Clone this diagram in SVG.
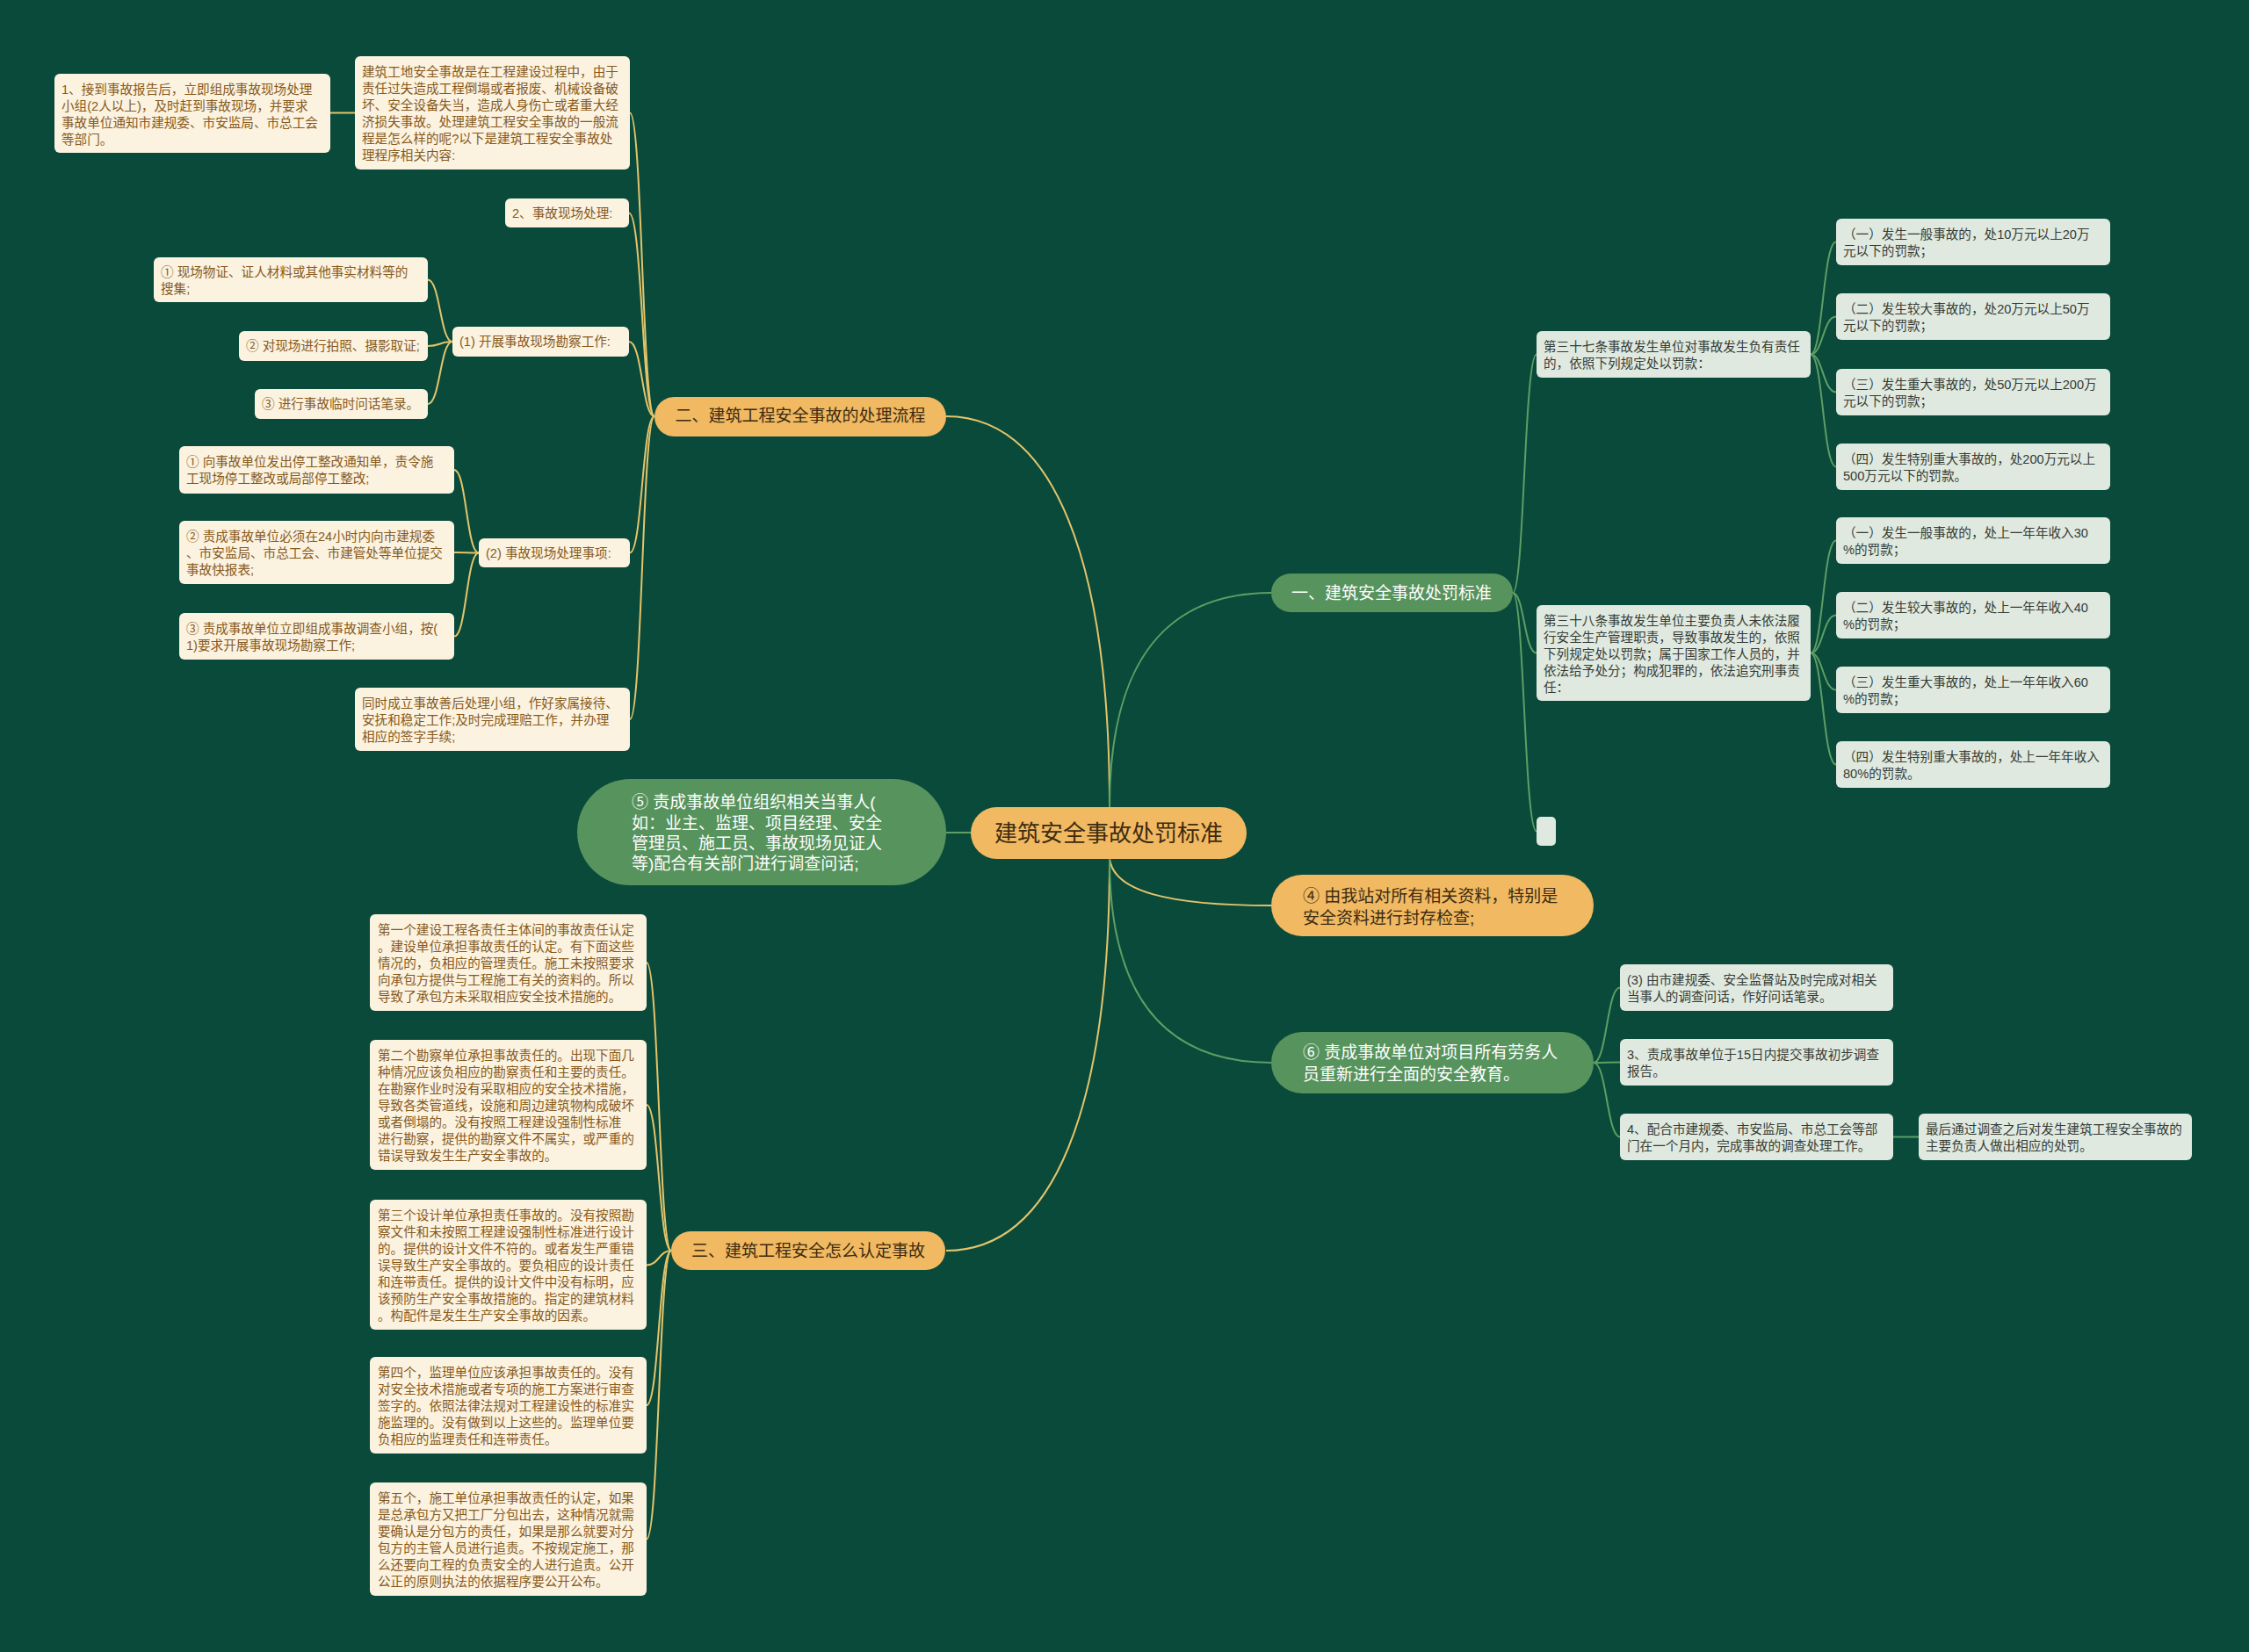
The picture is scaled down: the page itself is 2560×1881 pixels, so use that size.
<svg xmlns="http://www.w3.org/2000/svg" width="2560" height="1881" viewBox="0 0 2560 1881">
<style>
text{font-family:"Liberation Sans","Noto Sans CJK SC",sans-serif}
.lf{fill:#fbf2e0}
.rf{fill:#dfe9df}
.tl{fill:#87591a;font-size:14.6px}
.tr{fill:#363b36;font-size:14.6px}
.or{fill:#f0b962}
.gr{fill:#57935d}
.to{fill:#3d2b10;font-size:19px}
.tw{fill:#ffffff;font-size:19px}
.cy{fill:none;stroke:#e3c46c;stroke-width:2}
.cg{fill:none;stroke:#5d9e65;stroke-width:2}
</style>
<rect width="2560" height="1881" fill="#0a4a3a"/>
<g id="connectors">
<path class="cy" d="M1263,919 C1263,640 1200,474 1077,474"/>
<path class="cy" d="M1263,978 C1263,1260 1200,1424 1077,1424"/>
<path class="cg" d="M1263,919 C1263,750 1330,675 1447,675"/>
<path class="cy" d="M1263,978 C1268,1015 1330,1031 1447,1031"/>
<path class="cg" d="M1263,978 C1263,1140 1330,1210 1447,1210"/>
<path class="cg" d="M1105,948 L1077,948"/>
<path class="cy" d="M745,474 C731,474 731,128.5 717,128.5"/>
<path class="cy" d="M745,474 C731,474 731,242.5 716,242.5"/>
<path class="cy" d="M745,474 C731,474 731,389 716,389"/>
<path class="cy" d="M745,474 C731,474 731,629.5 717,629.5"/>
<path class="cy" d="M745,474 C731,474 731,819 717,819"/>
<path class="cy" d="M404,128.5 L376,128.5"/>
<path class="cy" d="M515,389 C501,389 501,318.5 487,318.5"/>
<path class="cy" d="M515,389 C501,389 501,394 487,394"/>
<path class="cy" d="M515,389 C501,389 501,460 487,460"/>
<path class="cy" d="M545,629.5 C531,629.5 531,535 517,535"/>
<path class="cy" d="M545,629.5 C531,629.5 531,629 517,629"/>
<path class="cy" d="M545,629.5 C531,629.5 531,724.5 517,724.5"/>
<path class="cy" d="M764,1424 C750,1424 750,1096 736,1096"/>
<path class="cy" d="M764,1424 C750,1424 750,1258 736,1258"/>
<path class="cy" d="M764,1424 C750,1424 750,1440.5 736,1440.5"/>
<path class="cy" d="M764,1424 C750,1424 750,1600 736,1600"/>
<path class="cy" d="M764,1424 C750,1424 750,1752.5 736,1752.5"/>
<path class="cg" d="M1722,675 C1735,675 1735,403.5 1749,403.5"/>
<path class="cg" d="M1722,675 C1735,675 1735,743.5 1749,743.5"/>
<path class="cg" d="M1722,675 C1735,675 1735,946.5 1749,946.5"/>
<path class="cg" d="M2061,403.5 C2075,403.5 2075,275.5 2090,275.5"/>
<path class="cg" d="M2061,403.5 C2075,403.5 2075,360.5 2090,360.5"/>
<path class="cg" d="M2061,403.5 C2075,403.5 2075,446.5 2090,446.5"/>
<path class="cg" d="M2061,403.5 C2075,403.5 2075,531.5 2090,531.5"/>
<path class="cg" d="M2061,743.5 C2075,743.5 2075,615.5 2090,615.5"/>
<path class="cg" d="M2061,743.5 C2075,743.5 2075,700.5 2090,700.5"/>
<path class="cg" d="M2061,743.5 C2075,743.5 2075,785.5 2090,785.5"/>
<path class="cg" d="M2061,743.5 C2075,743.5 2075,870.5 2090,870.5"/>
<path class="cg" d="M1814,1210 C1829,1210 1829,1124.5 1844,1124.5"/>
<path class="cg" d="M1814,1210 C1829,1210 1829,1209.5 1844,1209.5"/>
<path class="cg" d="M1814,1210 C1829,1210 1829,1294.5 1844,1294.5"/>
<path class="cg" d="M2155,1294.5 L2184,1294.5"/>
</g>
<g id="center"><rect class="or" x="1105" y="919" width="314" height="59" rx="29.5"/><text x="1262" y="958" text-anchor="middle" style="font-size:26px;fill:#3d2b10">建筑安全事故处罚标准</text></g>
<g id="b2"><rect class="or" x="745" y="452" width="332" height="45" rx="22.5"/><text class="to" x="911" y="480" text-anchor="middle">二、建筑工程安全事故的处理流程</text></g>
<g id="b3"><rect class="or" x="764" y="1402" width="312" height="44" rx="22"/><text class="to" x="920" y="1431" text-anchor="middle">三、建筑工程安全怎么认定事故</text></g>
<g id="b1"><rect class="gr" x="1447" y="653" width="275" height="44" rx="22"/><text class="tw" x="1584" y="682" text-anchor="middle">一、建筑安全事故处罚标准</text></g>
<g id="b5"><rect class="gr" x="657" y="887" width="420" height="121" rx="60.5"/><text class="tw"><tspan x="719" y="920">⑤ 责成事故单位组织相关当事人(</tspan><tspan x="719" y="944">如：业主、监理、项目经理、安全</tspan><tspan x="719" y="967">管理员、施工员、事故现场见证人</tspan><tspan x="719" y="990">等)配合有关部门进行调查问话;</tspan></text></g>
<g id="b4"><rect class="or" x="1447" y="996" width="367" height="70" rx="35"/><text class="to"><tspan x="1483" y="1027">④ 由我站对所有相关资料，特别是</tspan><tspan x="1483" y="1052">安全资料进行封存检查;</tspan></text></g>
<g id="b6"><rect class="gr" x="1447" y="1175" width="367" height="70" rx="35"/><text class="tw"><tspan x="1483" y="1205">⑥ 责成事故单位对项目所有劳务人</tspan><tspan x="1483" y="1230">员重新进行全面的安全教育。</tspan></text></g>
<g id="nA"><rect class="lf" x="62" y="84" width="314" height="90" rx="6"/><text class="tl"><tspan x="70" y="106.5">1、接到事故报告后，立即组成事故现场处理</tspan><tspan x="70" y="125.5">小组(2人以上)，及时赶到事故现场，并要求</tspan><tspan x="70" y="144.5">事故单位通知市建规委、市安监局、市总工会</tspan><tspan x="70" y="163.5">等部门。</tspan></text></g>
<g id="nB"><rect class="lf" x="404" y="64" width="313" height="129" rx="6"/><text class="tl"><tspan x="412" y="86.5">建筑工地安全事故是在工程建设过程中，由于</tspan><tspan x="412" y="105.5">责任过失造成工程倒塌或者报废、机械设备破</tspan><tspan x="412" y="124.5">坏、安全设备失当，造成人身伤亡或者重大经</tspan><tspan x="412" y="143.5">济损失事故。处理建筑工程安全事故的一般流</tspan><tspan x="412" y="162.5">程是怎么样的呢?以下是建筑工程安全事故处</tspan><tspan x="412" y="181.5">理程序相关内容:</tspan></text></g>
<g id="n2"><rect class="lf" x="575" y="226" width="141" height="33" rx="6"/><text class="tl" x="583" y="248">2、事故现场处理:</text></g>
<g id="n1"><rect class="lf" x="515" y="372" width="201" height="34" rx="6"/><text class="tl" x="523" y="394">(1) 开展事故现场勘察工作:</text></g>
<g id="c1a"><rect class="lf" x="175" y="293" width="312" height="51" rx="6"/><text class="tl"><tspan x="183" y="315">① 现场物证、证人材料或其他事实材料等的</tspan><tspan x="183" y="334">搜集;</tspan></text></g>
<g id="c1b"><rect class="lf" x="272" y="377" width="215" height="34" rx="6"/><text class="tl" x="280" y="399">② 对现场进行拍照、摄影取证;</text></g>
<g id="c1c"><rect class="lf" x="290" y="443" width="197" height="34" rx="6"/><text class="tl" x="298" y="465">③ 进行事故临时问话笔录。</text></g>
<g id="n2b"><rect class="lf" x="545" y="613" width="172" height="33" rx="6"/><text class="tl" x="553" y="635">(2) 事故现场处理事项:</text></g>
<g id="c2a"><rect class="lf" x="204" y="508" width="313" height="54" rx="6"/><text class="tl"><tspan x="212" y="531">① 向事故单位发出停工整改通知单，责令施</tspan><tspan x="212" y="550">工现场停工整改或局部停工整改;</tspan></text></g>
<g id="c2b"><rect class="lf" x="204" y="593" width="313" height="72" rx="6"/><text class="tl"><tspan x="212" y="615.5">② 责成事故单位必须在24小时内向市建规委</tspan><tspan x="212" y="634.5">、市安监局、市总工会、市建管处等单位提交</tspan><tspan x="212" y="653.5">事故快报表;</tspan></text></g>
<g id="c2c"><rect class="lf" x="204" y="698" width="313" height="53" rx="6"/><text class="tl"><tspan x="212" y="720.5">③ 责成事故单位立即组成事故调查小组，按(</tspan><tspan x="212" y="739.5">1)要求开展事故现场勘察工作;</tspan></text></g>
<g id="n3"><rect class="lf" x="404" y="783" width="313" height="72" rx="6"/><text class="tl"><tspan x="412" y="805.5">同时成立事故善后处理小组，作好家属接待、</tspan><tspan x="412" y="824.5">安抚和稳定工作;及时完成理赔工作，并办理</tspan><tspan x="412" y="843.5">相应的签字手续;</tspan></text></g>
<g id="L1"><rect class="lf" x="421" y="1041" width="315" height="110" rx="6"/><text class="tl"><tspan x="430" y="1063.5">第一个建设工程各责任主体间的事故责任认定</tspan><tspan x="430" y="1082.5">。建设单位承担事故责任的认定。有下面这些</tspan><tspan x="430" y="1101.5">情况的，负相应的管理责任。施工未按照要求</tspan><tspan x="430" y="1120.5">向承包方提供与工程施工有关的资料的。所以</tspan><tspan x="430" y="1139.5">导致了承包方未采取相应安全技术措施的。</tspan></text></g>
<g id="L2"><rect class="lf" x="421" y="1184" width="315" height="148" rx="6"/><text class="tl"><tspan x="430" y="1206.5">第二个勘察单位承担事故责任的。出现下面几</tspan><tspan x="430" y="1225.5">种情况应该负相应的勘察责任和主要的责任。</tspan><tspan x="430" y="1244.5">在勘察作业时没有采取相应的安全技术措施，</tspan><tspan x="430" y="1263.5">导致各类管道线，设施和周边建筑物构成破坏</tspan><tspan x="430" y="1282.5">或者倒塌的。没有按照工程建设强制性标准</tspan><tspan x="430" y="1301.5">进行勘察，提供的勘察文件不属实，或严重的</tspan><tspan x="430" y="1320.5">错误导致发生生产安全事故的。</tspan></text></g>
<g id="L3"><rect class="lf" x="421" y="1366" width="315" height="148" rx="6"/><text class="tl"><tspan x="430" y="1388.5">第三个设计单位承担责任事故的。没有按照勘</tspan><tspan x="430" y="1407.5">察文件和未按照工程建设强制性标准进行设计</tspan><tspan x="430" y="1426.5">的。提供的设计文件不符的。或者发生严重错</tspan><tspan x="430" y="1445.5">误导致生产安全事故的。要负相应的设计责任</tspan><tspan x="430" y="1464.5">和连带责任。提供的设计文件中没有标明，应</tspan><tspan x="430" y="1483.5">该预防生产安全事故措施的。指定的建筑材料</tspan><tspan x="430" y="1502.5">。构配件是发生生产安全事故的因素。</tspan></text></g>
<g id="L4"><rect class="lf" x="421" y="1545" width="315" height="110" rx="6"/><text class="tl"><tspan x="430" y="1567.5">第四个，监理单位应该承担事故责任的。没有</tspan><tspan x="430" y="1586.5">对安全技术措施或者专项的施工方案进行审查</tspan><tspan x="430" y="1605.5">签字的。依照法律法规对工程建设性的标准实</tspan><tspan x="430" y="1624.5">施监理的。没有做到以上这些的。监理单位要</tspan><tspan x="430" y="1643.5">负相应的监理责任和连带责任。</tspan></text></g>
<g id="L5"><rect class="lf" x="421" y="1688" width="315" height="129" rx="6"/><text class="tl"><tspan x="430" y="1710.5">第五个，施工单位承担事故责任的认定，如果</tspan><tspan x="430" y="1729.5">是总承包方又把工厂分包出去，这种情况就需</tspan><tspan x="430" y="1748.5">要确认是分包方的责任，如果是那么就要对分</tspan><tspan x="430" y="1767.5">包方的主管人员进行追责。不按规定施工，那</tspan><tspan x="430" y="1786.5">么还要向工程的负责安全的人进行追责。公开</tspan><tspan x="430" y="1805.5">公正的原则执法的依据程序要公开公布。</tspan></text></g>
<g id="R37"><rect class="rf" x="1749" y="377" width="312" height="53" rx="6"/><text class="tr"><tspan x="1757" y="399.5">第三十七条事故发生单位对事故发生负有责任</tspan><tspan x="1757" y="418.5">的，依照下列规定处以罚款：</tspan></text></g>
<g id="R38"><rect class="rf" x="1749" y="689" width="312" height="109" rx="6"/><text class="tr"><tspan x="1757" y="711.5">第三十八条事故发生单位主要负责人未依法履</tspan><tspan x="1757" y="730.5">行安全生产管理职责，导致事故发生的，依照</tspan><tspan x="1757" y="749.5">下列规定处以罚款；属于国家工作人员的，并</tspan><tspan x="1757" y="768.5">依法给予处分；构成犯罪的，依法追究刑事责</tspan><tspan x="1757" y="787.5">任：</tspan></text></g>
<g id="Rempty"><rect class="rf" x="1749" y="930" width="22" height="33" rx="5"/></g>
<g id="P1"><rect class="rf" x="2090" y="249" width="312" height="53" rx="6"/><text class="tr"><tspan x="2098" y="271.5">（一）发生一般事故的，处10万元以上20万</tspan><tspan x="2098" y="290.5">元以下的罚款；</tspan></text></g>
<g id="P2"><rect class="rf" x="2090" y="334" width="312" height="53" rx="6"/><text class="tr"><tspan x="2098" y="356.5">（二）发生较大事故的，处20万元以上50万</tspan><tspan x="2098" y="375.5">元以下的罚款；</tspan></text></g>
<g id="P3"><rect class="rf" x="2090" y="420" width="312" height="53" rx="6"/><text class="tr"><tspan x="2098" y="442.5">（三）发生重大事故的，处50万元以上200万</tspan><tspan x="2098" y="461.5">元以下的罚款；</tspan></text></g>
<g id="P4"><rect class="rf" x="2090" y="505" width="312" height="53" rx="6"/><text class="tr"><tspan x="2098" y="527.5">（四）发生特别重大事故的，处200万元以上</tspan><tspan x="2098" y="546.5">500万元以下的罚款。</tspan></text></g>
<g id="P5"><rect class="rf" x="2090" y="589" width="312" height="53" rx="6"/><text class="tr"><tspan x="2098" y="611.5">（一）发生一般事故的，处上一年年收入30</tspan><tspan x="2098" y="630.5">%的罚款；</tspan></text></g>
<g id="P6"><rect class="rf" x="2090" y="674" width="312" height="53" rx="6"/><text class="tr"><tspan x="2098" y="696.5">（二）发生较大事故的，处上一年年收入40</tspan><tspan x="2098" y="715.5">%的罚款；</tspan></text></g>
<g id="P7"><rect class="rf" x="2090" y="759" width="312" height="53" rx="6"/><text class="tr"><tspan x="2098" y="781.5">（三）发生重大事故的，处上一年年收入60</tspan><tspan x="2098" y="800.5">%的罚款；</tspan></text></g>
<g id="P8"><rect class="rf" x="2090" y="844" width="312" height="53" rx="6"/><text class="tr"><tspan x="2098" y="866.5">（四）发生特别重大事故的，处上一年年收入</tspan><tspan x="2098" y="885.5">80%的罚款。</tspan></text></g>
<g id="S3"><rect class="rf" x="1844" y="1098" width="311" height="53" rx="6"/><text class="tr"><tspan x="1852" y="1120.5">(3) 由市建规委、安全监督站及时完成对相关</tspan><tspan x="1852" y="1139.5">当事人的调查问话，作好问话笔录。</tspan></text></g>
<g id="S4"><rect class="rf" x="1844" y="1183" width="311" height="53" rx="6"/><text class="tr"><tspan x="1852" y="1205.5">3、责成事故单位于15日内提交事故初步调查</tspan><tspan x="1852" y="1224.5">报告。</tspan></text></g>
<g id="S5"><rect class="rf" x="1844" y="1268" width="311" height="53" rx="6"/><text class="tr"><tspan x="1852" y="1290.5">4、配合市建规委、市安监局、市总工会等部</tspan><tspan x="1852" y="1309.5">门在一个月内，完成事故的调查处理工作。</tspan></text></g>
<g id="S6"><rect class="rf" x="2184" y="1268" width="311" height="53" rx="6"/><text class="tr"><tspan x="2192" y="1290.5">最后通过调查之后对发生建筑工程安全事故的</tspan><tspan x="2192" y="1309.5">主要负责人做出相应的处罚。</tspan></text></g>
</svg>
